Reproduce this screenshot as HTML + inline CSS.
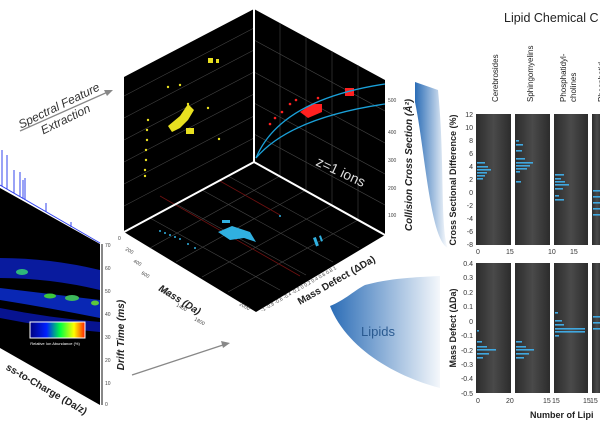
<!DOCTYPE html>
<html><head><meta charset="utf-8"><style>
html,body{margin:0;padding:0;background:#fff;}
svg{display:block;font-family:"Liberation Sans",sans-serif;}
</style></head><body>
<svg width="600" height="428" viewBox="0 0 600 428" xmlns="http://www.w3.org/2000/svg">
<defs>
<linearGradient id="sw1" x1="0" y1="0" x2="1" y2="0"><stop offset="0" stop-color="#2a6cb6"/><stop offset="1" stop-color="#2a6cb6" stop-opacity="0"/></linearGradient>
<linearGradient id="sw2" x1="0" y1="0" x2="1" y2="0"><stop offset="0" stop-color="#2a6cb6"/><stop offset="1" stop-color="#2a6cb6" stop-opacity="0.05"/></linearGradient>
<linearGradient id="pan" x1="0" y1="0" x2="1" y2="0"><stop offset="0" stop-color="#2c2c2c"/><stop offset="0.5" stop-color="#4a4a4a"/><stop offset="1" stop-color="#2c2c2c"/></linearGradient>
<linearGradient id="cb" x1="0" y1="0" x2="1" y2="0"><stop offset="0" stop-color="#000080"/><stop offset="0.3" stop-color="#0020ff"/><stop offset="0.55" stop-color="#00ff40"/><stop offset="0.8" stop-color="#ffff00"/><stop offset="1" stop-color="#ff2000"/></linearGradient>
</defs>
<!-- spectrum -->
<g stroke="#3344ee" stroke-width="1">
<line x1="0" y1="185" x2="100" y2="243"/>
<line x1="2" y1="150" x2="2" y2="186"/><line x1="7" y1="155" x2="7" y2="189"/>
<line x1="14" y1="170" x2="14" y2="193"/><line x1="20" y1="172" x2="20" y2="197"/>
<line x1="23" y1="180" x2="23" y2="199"/><line x1="25" y1="178" x2="25" y2="200"/>
<line x1="46" y1="203" x2="46" y2="212"/><line x1="71" y1="222" x2="71" y2="227"/>
</g>
<!-- heatmap -->
<polygon points="0,188 100,244 100,405 0,348" fill="#000"/>
<g opacity="0.9">
<path d="M0,258 Q50,258 100,270 L100,290 Q50,278 0,278Z" fill="#0a1fb0"/>
<path d="M0,288 Q50,294 100,300 L100,318 Q50,308 0,300Z" fill="#0a2cc8"/>
<ellipse cx="22" cy="272" rx="6" ry="3" fill="#3c8"/>
<ellipse cx="50" cy="296" rx="6" ry="2.5" fill="#4d4"/><ellipse cx="72" cy="298" rx="7" ry="3" fill="#4c6"/>
<ellipse cx="95" cy="303" rx="4" ry="2.5" fill="#6d4"/>
<path d="M0,308 Q50,318 100,322 L100,332 Q50,328 0,318Z" fill="#0816a0"/>
</g>
<rect x="30" y="322" width="55" height="16" fill="url(#cb)" stroke="#fff" stroke-width="1"/>
<text x="55" y="345" font-size="4" fill="#fff" text-anchor="middle">Relative Ion Abundance (%)</text>
<line x1="102" y1="244" x2="102" y2="405" stroke="#888" stroke-width="2"/>
<g font-size="5" fill="#444">
<text x="105" y="247">70</text><text x="105" y="270">60</text><text x="105" y="293">50</text><text x="105" y="316">40</text><text x="105" y="339">30</text><text x="105" y="362">20</text><text x="105" y="385">10</text><text x="105" y="406">0</text>
</g>
<text transform="translate(124,335) rotate(-90)" font-size="10" font-weight="bold" font-style="italic" fill="#222" text-anchor="middle">Drift Time (ms)</text>
<text transform="translate(45,392) rotate(30)" font-size="10" font-weight="bold" fill="#222" text-anchor="middle">ss-to-Charge (Da/z)</text>
<!-- arrows -->
<g transform="translate(62,112) rotate(-26)" font-size="12" font-style="italic" fill="#333" text-anchor="middle"><text x="0" y="-3">Spectral Feature</text><text x="0" y="12">Extraction</text></g>
<line x1="20" y1="131" x2="110" y2="91" stroke="#888" stroke-width="1.3"/>
<polygon points="113,90 104,90 107,96" fill="#888"/>
<line x1="132" y1="375" x2="226" y2="344" stroke="#888" stroke-width="1.3"/>
<polygon points="230,343 221,341 223,348" fill="#888"/>
<!-- cube -->
<polygon points="124,77 254,9 254,162 124,232" fill="#000"/>
<polygon points="254,9 385,80 385,235 254,162" fill="#000"/>
<polygon points="124,232 254,162 385,235 256,312" fill="#000"/>
<g stroke="#444" stroke-width="0.6">
<line x1="124" y1="96" x2="254" y2="28"/><line x1="124" y1="118" x2="254" y2="50"/><line x1="124" y1="140" x2="254" y2="72"/><line x1="124" y1="162" x2="254" y2="94"/><line x1="124" y1="184" x2="254" y2="116"/><line x1="124" y1="206" x2="254" y2="138"/>
<line x1="280" y1="23" x2="280" y2="177"/><line x1="306" y1="37" x2="306" y2="191"/><line x1="332" y1="51" x2="332" y2="206"/><line x1="358" y1="65" x2="358" y2="220"/>
<line x1="254" y1="40" x2="385" y2="111"/><line x1="254" y1="72" x2="385" y2="143"/><line x1="254" y1="103" x2="385" y2="174"/><line x1="254" y1="134" x2="385" y2="205"/>
<line x1="150" y1="218" x2="280" y2="290"/><line x1="176" y1="204" x2="306" y2="275"/><line x1="202" y1="190" x2="333" y2="262"/><line x1="228" y1="176" x2="359" y2="248"/>
<line x1="280" y1="176" x2="150" y2="248"/><line x1="306" y1="190" x2="176" y2="262"/><line x1="332" y1="205" x2="202" y2="277"/><line x1="358" y1="220" x2="228" y2="292"/>
</g>
<line x1="160" y1="196" x2="300" y2="276" stroke="#701010" stroke-width="0.8"/>
<line x1="220" y1="181" x2="280" y2="215" stroke="#701010" stroke-width="0.8"/>
<g stroke="#fff" stroke-width="2" fill="none"><line x1="254" y1="9" x2="254" y2="162"/><polyline points="124,232 254,162 385,235"/></g>
<g fill="#e8e020">
<rect x="208" y="58" width="5" height="5"/><rect x="216" y="59" width="3" height="4"/>
<path d="M168,126 l12,-10 l8,-12 l6,6 l-6,10 l-8,8 l-8,4z"/><rect x="186" y="128" width="8" height="6"/>
<circle cx="168" cy="87" r="1.2"/><circle cx="180" cy="85" r="1.2"/><circle cx="188" cy="104" r="1.2"/><circle cx="208" cy="108" r="1.2"/><circle cx="219" cy="139" r="1.2"/>
<circle cx="148" cy="120" r="1.2"/><circle cx="147" cy="130" r="1.2"/><circle cx="147" cy="140" r="1.2"/><circle cx="146" cy="150" r="1.2"/><circle cx="146" cy="160" r="1.2"/><circle cx="145" cy="170" r="1.2"/><circle cx="145" cy="176" r="1.2"/>
</g>
<g fill="#ff2020">
<path d="M300,112 l12,-8 l10,0 l0,8 l-14,6z"/><rect x="345" y="88" width="9" height="8"/>
<circle cx="290" cy="104" r="1.3"/><circle cx="282" cy="112" r="1.3"/><circle cx="275" cy="118" r="1.3"/><circle cx="270" cy="124" r="1.3"/><circle cx="296" cy="100" r="1.3"/><circle cx="318" cy="98" r="1.3"/>
</g>
<path d="M256,158 Q280,100 385,84" stroke="#1aa0d8" stroke-width="1.3" fill="none"/>
<path d="M256,158 Q290,118 385,104" stroke="#1aa0d8" stroke-width="1.3" fill="none"/>
<text transform="translate(315,165) rotate(25)" font-size="14" fill="#ddd">z=1 ions</text>
<g fill="#30b0e0">
<path d="M218,232 l14,-6 l18,6 l6,10 l-12,-4 l-14,2z"/><rect x="222" y="220" width="8" height="3"/><rect x="313" y="238" width="3" height="9" transform="rotate(-20 313 238)"/><rect x="319" y="236" width="2" height="6" transform="rotate(-20 319 236)"/>
<circle cx="160" cy="231" r="1"/><circle cx="165" cy="233" r="1"/><circle cx="170" cy="235" r="1"/><circle cx="175" cy="237" r="1"/><circle cx="180" cy="239" r="1"/><circle cx="188" cy="244" r="1"/><circle cx="195" cy="248" r="1"/><circle cx="280" cy="216" r="1"/>
</g>
<g font-size="5" fill="#444">
<text x="118" y="240">0</text><text transform="translate(125,250) rotate(30)">200</text><text transform="translate(133,262) rotate(30)">400</text><text transform="translate(141,274) rotate(30)">600</text><text transform="translate(158,290) rotate(30)">1000</text><text transform="translate(176,306) rotate(30)">1400</text><text transform="translate(194,320) rotate(30)">1800</text><text transform="translate(239,305) rotate(30)">2000</text>
<text transform="translate(262,312) rotate(-30)">-1 -0.8 -0.6 -0.4 -0.2 0 0.2 0.4 0.6 0.8 1</text>
<text x="388" y="102">500</text><text x="388" y="134">400</text><text x="388" y="162">300</text><text x="388" y="190">200</text><text x="388" y="217">100</text>
</g>
<text transform="translate(158,290) rotate(32)" font-size="10" font-weight="bold" font-style="italic" fill="#222">Mass (Da)</text>
<text transform="translate(300,305) rotate(-30)" font-size="10" font-weight="bold" fill="#222">Mass Defect (ΔDa)</text>
<text transform="translate(412,165) rotate(-90)" font-size="10" font-weight="bold" font-style="italic" fill="#222" text-anchor="middle">Collision Cross Section (Å²)</text>
<!-- swooshes -->
<path d="M415,82 L438,90 C445,160 440,230 448,248 C430,240 425,150 415,102Z" fill="url(#sw1)"/>
<path d="M330,306 C345,300 355,290 365,285 C390,278 420,277 440,276 L440,388 C390,375 345,345 330,306Z" fill="url(#sw2)"/>
<text x="378" y="336" font-size="13" fill="#2a5a90" text-anchor="middle">Lipids</text>
<!-- right panels -->
<text x="504" y="22" font-size="12.5" fill="#222">Lipid Chemical C</text>
<g font-size="8" fill="#222">
<text transform="translate(498,102) rotate(-90)">Cerebrosides</text>
<text transform="translate(533,102) rotate(-90)">Sphingomyelins</text>
<text transform="translate(566,102) rotate(-90)">Phosphatidyl-</text>
<text transform="translate(576,102) rotate(-90)">cholines</text>
<text transform="translate(604,102) rotate(-90)">Phosphatid</text>
</g>
<g fill="url(#pan)">
<rect x="476" y="114" width="35" height="131"/><rect x="515" y="114" width="35" height="131"/><rect x="554" y="114" width="34" height="131"/><rect x="592" y="114" width="10" height="131"/>
<rect x="476" y="263" width="35" height="130"/><rect x="515" y="263" width="35" height="130"/><rect x="554" y="263" width="34" height="130"/><rect x="592" y="263" width="10" height="130"/>
</g>
<g fill="#40a8e0">
<rect x="477" y="162" width="8" height="1.6"/><rect x="477" y="166" width="11" height="1.6"/><rect x="477" y="169" width="14" height="1.6"/><rect x="477" y="172" width="10" height="1.6"/><rect x="477" y="175" width="8" height="1.6"/><rect x="477" y="178" width="6" height="1.6"/>
<rect x="516" y="140" width="3" height="1.6"/><rect x="516" y="144" width="7" height="1.6"/><rect x="516" y="150" width="6" height="1.6"/><rect x="516" y="158" width="9" height="1.6"/><rect x="516" y="162" width="17" height="1.6"/><rect x="516" y="165" width="14" height="1.6"/><rect x="516" y="168" width="11" height="1.6"/><rect x="516" y="171" width="4" height="1.6"/><rect x="516" y="181" width="5" height="1.6"/>
<rect x="555" y="174" width="9" height="1.6"/><rect x="555" y="178" width="6" height="1.6"/><rect x="555" y="181" width="10" height="1.6"/><rect x="555" y="184" width="14" height="1.6"/><rect x="555" y="188" width="8" height="1.6"/><rect x="555" y="195" width="4" height="1.6"/><rect x="555" y="199" width="9" height="1.6"/>
<rect x="593" y="190" width="9" height="1.6"/><rect x="593" y="196" width="9" height="1.6"/><rect x="593" y="202" width="9" height="1.6"/><rect x="593" y="208" width="9" height="1.6"/><rect x="593" y="214" width="9" height="1.6"/>
<rect x="477" y="330" width="2" height="1.6"/><rect x="477" y="341" width="5" height="1.6"/><rect x="477" y="346" width="10" height="1.6"/><rect x="477" y="349" width="19" height="1.6"/><rect x="477" y="353" width="12" height="1.6"/><rect x="477" y="357" width="6" height="1.6"/>
<rect x="516" y="341" width="6" height="1.6"/><rect x="516" y="346" width="10" height="1.6"/><rect x="516" y="349" width="18" height="1.6"/><rect x="516" y="353" width="13" height="1.6"/><rect x="516" y="357" width="8" height="1.6"/>
<rect x="555" y="312" width="3" height="1.6"/><rect x="555" y="320" width="7" height="1.6"/><rect x="555" y="324" width="9" height="1.6"/><rect x="555" y="328" width="30" height="1.6"/><rect x="555" y="331" width="30" height="1.6"/><rect x="555" y="335" width="4" height="1.6"/>
<rect x="593" y="316" width="9" height="1.6"/><rect x="593" y="322" width="9" height="1.6"/><rect x="593" y="328" width="9" height="1.6"/>
</g>
<g font-size="7" fill="#333" text-anchor="end">
<text x="473" y="117">12</text><text x="473" y="130">10</text><text x="473" y="143">8</text><text x="473" y="156">6</text><text x="473" y="169">4</text><text x="473" y="182">2</text><text x="473" y="195">0</text><text x="473" y="208">-2</text><text x="473" y="221">-4</text><text x="473" y="234">-6</text><text x="473" y="247">-8</text>
<text x="473" y="266">0.4</text><text x="473" y="280">0.3</text><text x="473" y="295">0.2</text><text x="473" y="309">0.1</text><text x="473" y="324">0</text><text x="473" y="338">-0.1</text><text x="473" y="353">-0.2</text><text x="473" y="367">-0.3</text><text x="473" y="381">-0.4</text><text x="473" y="396">-0.5</text>
</g>
<g font-size="7" fill="#333">
<text x="476" y="254">0</text><text x="506" y="254">15</text><text x="548" y="254">10</text><text x="570" y="254">15</text>
<text x="476" y="403">0</text><text x="506" y="403">20</text><text x="543" y="403">15</text><text x="552" y="403">15</text><text x="583" y="403">15</text><text x="590" y="403">15</text>
</g>
<text transform="translate(456,180) rotate(-90)" font-size="9" font-weight="bold" fill="#222" text-anchor="middle">Cross Sectional Difference (%)</text>
<text transform="translate(456,328) rotate(-90)" font-size="9" font-weight="bold" fill="#222" text-anchor="middle">Mass Defect (ΔDa)</text>
<text x="530" y="418" font-size="9" font-weight="bold" fill="#222">Number of Lipi</text>
</svg>
</body></html>
